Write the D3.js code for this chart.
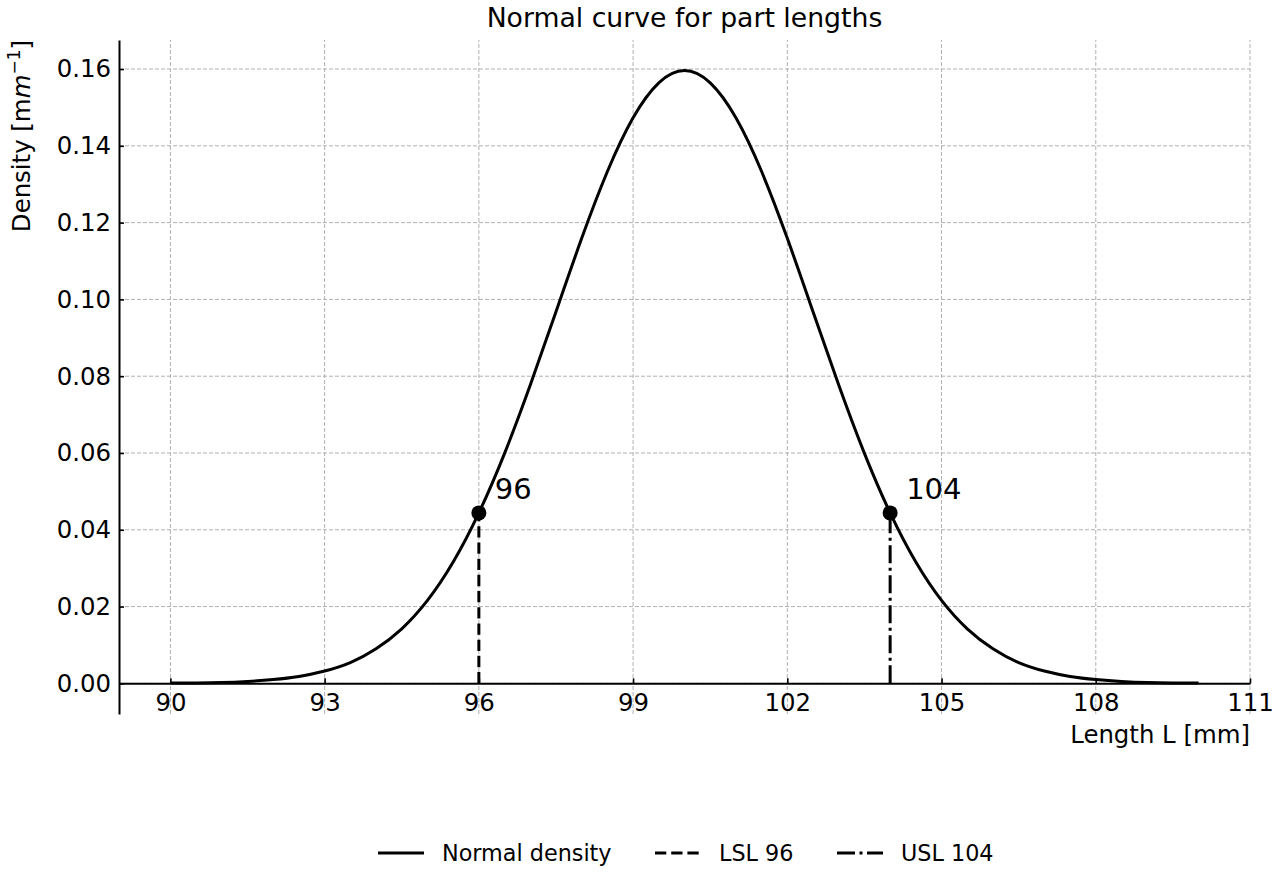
<!DOCTYPE html>
<html>
<head>
<meta charset="utf-8">
<script src="https://cdn.jsdelivr.net/npm/d3@7"></script>
<style>
body{margin:0;background:#fff;}
svg{display:block;font-family:"DejaVu Sans",sans-serif;}
</style>
</head>
<body>
<div id="chart"></div>
<script>
var lengths = [90,90.5,91,91.5,92,92.5,93,93.5,94,94.5,95,95.5,96,96.5,97,97.5,98,98.5,99,99.5,100,
	100.5,101,101.5,102,102.5,103,103.5,104,104.5,105,105.5,106,106.5,107,107.5,108,108.5,109,109.5,110];
var density = [0.0001,0.0001,0.0002,0.0005,0.0010,0.0018,0.0032,0.0054,0.0090,0.0142,0.0216,0.0316,0.0444,0.0599,0.0777,0.0968,0.1159,0.1333,0.1473,0.1564,0.1596,
	0.1564,0.1473,0.1333,0.1159,0.0968,0.0777,0.0599,0.0444,0.0316,0.0216,0.0142,0.0090,0.0054,0.0032,0.0018,0.0010,0.0005,0.0002,0.0001,0.0001];
var specLabels = ['LSL 96','USL 104'];
var specValues = [96,104];
var specDensity = [0.0444,0.0444];
var xTicks = [90,93,96,99,102,105,108,111];
var yTicks = [0,0.02,0.04,0.06,0.08,0.10,0.12,0.14,0.16];

var W=1280, H=880;
var svg = d3.select('#chart').append('svg').attr('width',W).attr('height',H);

var x = d3.scaleLinear().domain([89,111]).range([119,1250]);
var y = d3.scaleLinear().domain([-0.00798,0.16756]).range([714,40]);

// grid
var grid = svg.append('g').attr('stroke','#b0b0b0').attr('stroke-width',1).attr('stroke-dasharray','4,2');
grid.selectAll('.gx').data(xTicks).enter().append('line')
	.attr('x1',function(d){return x(d);}).attr('x2',function(d){return x(d);})
	.attr('y1',y.range()[0]).attr('y2',y.range()[1]);
grid.selectAll('.gy').data(yTicks).enter().append('line')
	.attr('y1',function(d){return y(d);}).attr('y2',function(d){return y(d);})
	.attr('x1',x.range()[0]).attr('x2',x.range()[1]);

// axes: ticks point inward, bottom spine sits at zero
var xAxis = svg.append('g').attr('transform','translate(0,'+y(0)+')')
	.call(d3.axisBottom(x).tickValues(xTicks).tickSizeInner(-5).tickSizeOuter(0).tickPadding(10).tickFormat(d3.format('d')));
var yAxis = svg.append('g').attr('transform','translate('+x(89)+',0)')
	.call(d3.axisLeft(y).tickValues(yTicks).tickSizeInner(-5).tickSizeOuter(0).tickPadding(8).tickFormat(d3.format('.2f')));
[xAxis,yAxis].forEach(function(a){
	a.selectAll('text').attr('font-size','24.4px').attr('fill','#000').attr('font-family','DejaVu Sans');
	a.selectAll('line').attr('stroke','#000').attr('stroke-width',1.6);
	a.select('.domain').attr('stroke','#000').attr('stroke-width',2);
});
xAxis.selectAll('text').attr('dy','0.71em');

// curve
var pts = lengths.map(function(d,i){return [d,density[i]];});
svg.append('path').datum(pts)
	.attr('fill','none').attr('stroke','#000').attr('stroke-width',3)
	.attr('d',d3.line().x(function(d){return x(d[0]);}).y(function(d){return y(d[1]);}).curve(d3.curveNatural));

// spec limit lines
var dashes = ['11.3,4.9','18,4.5,3,4.5'];
specValues.forEach(function(v,i){
	svg.append('line')
		.attr('x1',x(v)).attr('x2',x(v)).attr('y1',y(0)).attr('y2',y(specDensity[i]))
		.attr('stroke','#000').attr('stroke-width',3).attr('stroke-dasharray',dashes[i]);
	svg.append('circle').attr('cx',x(v)).attr('cy',y(specDensity[i])).attr('r',7.5).attr('fill','#000');
	svg.append('text').attr('x',x(v)+16).attr('y',y(specDensity[i])-14)
		.attr('font-size','29px').text(v);
});

// title and labels
svg.append('text').attr('x',(x.range()[0]+x.range()[1])/2).attr('y',27)
	.attr('text-anchor','middle').attr('font-size','26.7px').text('Normal curve for part lengths');
svg.append('text').attr('x',1250).attr('y',743)
	.attr('text-anchor','end').attr('font-size','24.4px').text('Length L [mm]');
var yl = svg.append('text').attr('transform','translate(30,40) rotate(-90)')
	.attr('text-anchor','end').attr('font-size','24.4px');
yl.append('tspan').text('Density [m');
yl.append('tspan').attr('font-style','italic').text('m');
yl.append('tspan').attr('font-size','17px').attr('dy','-10').text('\u22121');
yl.append('tspan').attr('dy','10').text(']');

// legend
var legendX = [378,655,837];
var legendNames = ['Normal density'].concat(specLabels);
var legendDash = ['none'].concat(dashes);
legendNames.forEach(function(n,i){
	var g = svg.append('g').attr('transform','translate('+legendX[i]+',853)');
	g.append('line').attr('x1',0).attr('x2',46).attr('stroke','#000').attr('stroke-width',3)
		.attr('stroke-dasharray',legendDash[i]);
	g.append('text').attr('x',64).attr('y',8).attr('font-size','22.3px').text(n);
});
</script>
</body>
</html>
